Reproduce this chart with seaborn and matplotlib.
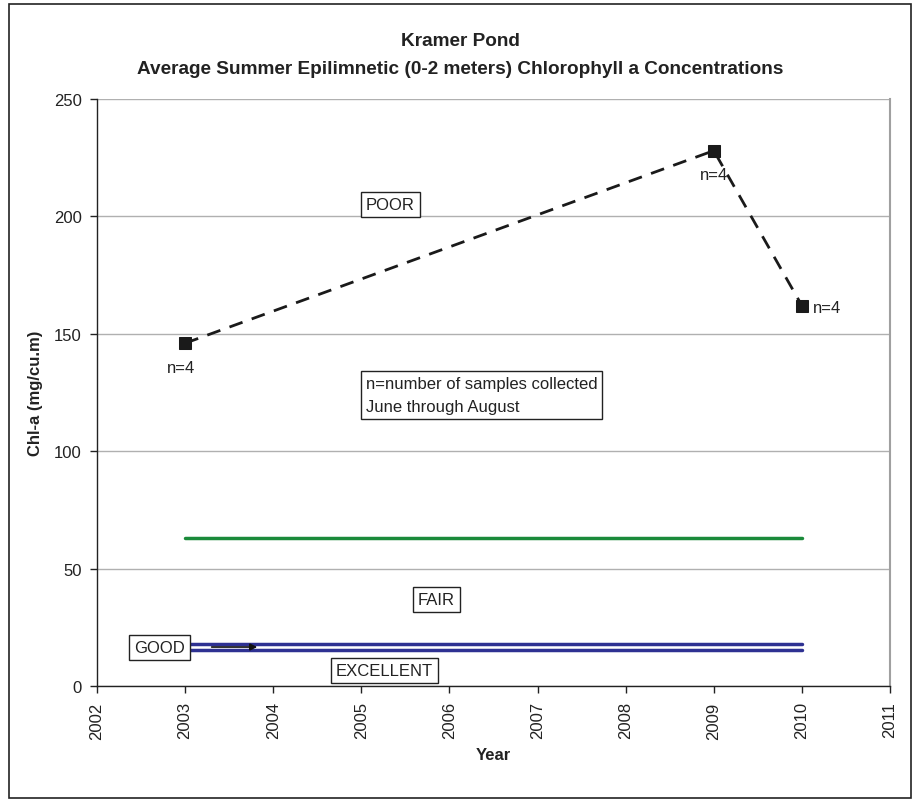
import matplotlib
matplotlib.use("Agg")
import matplotlib.pyplot as plt
import seaborn as sns
import pandas as pd
from matplotlib.patches import Rectangle

years = [2003, 2009, 2010]
chla = [146, 228, 162]
n_labels = ["n=4", "n=4", "n=4"]
fair_poor = [63, 63]
good_line = [18, 18]
excellent_line = [15.5, 15.5]
line_years = [2003, 2010]

sns.set_theme(style="white")
plt.rcParams['font.family'] = ['Liberation Sans', 'DejaVu Sans']

FS = 12
TXT = "#222222"

fig = plt.figure(figsize=(9.15, 8.03), dpi=100)
ax = fig.add_axes([97/915, 1-687/803, (890-97)/915, (687-100)/803])

df = pd.DataFrame({"Year": years, "Chl": chla})
sns.lineplot(data=df, x="Year", y="Chl", ax=ax, color="#1a1a1a", lw=2,
             linestyle=(0, (5, 3.5)), marker="s", markersize=9,
             markeredgecolor="#1a1a1a", zorder=4)

ax.plot(line_years, fair_poor, color="#1a8a3a", lw=2.5, zorder=3)
ax.plot(line_years, good_line, color="#2e3192", lw=2.5, zorder=3)
ax.plot(line_years, excellent_line, color="#2e3192", lw=2.5, zorder=3)

ax.set_xlim(2002, 2011)
ax.set_ylim(0, 250)
ax.set_xticks(range(2002, 2012))
ax.set_xticklabels([str(y) for y in range(2002, 2012)], rotation=90, fontsize=FS, color=TXT)
ax.set_yticks(range(0, 251, 50))
ax.set_yticklabels([str(v) for v in range(0, 251, 50)], fontsize=FS, color=TXT)
ax.yaxis.grid(True, color="#b0b0b0", lw=1)
ax.xaxis.grid(False)
ax.set_axisbelow(True)
for s in ["left", "bottom"]:
    ax.spines[s].set_color("#222222")
    ax.spines[s].set_linewidth(1)
ax.spines["top"].set_visible(False)
ax.spines["right"].set_color("#a0a0a0")
ax.spines["right"].set_linewidth(1.5)
ax.tick_params(axis="both", which="both", direction="out", length=5, width=1,
               color="#222222", left=True, bottom=True, pad=6)

ax.set_xlabel("Year", fontsize=FS, fontweight="bold", labelpad=6, color=TXT)
ax.set_ylabel("Chl-a (mg/cu.m)", fontsize=FS, fontweight="bold", labelpad=7.5, color=TXT)

# n labels
ax.annotate(n_labels[0], (years[0], chla[0]), xytext=(-3, -12), textcoords="offset points",
            ha="center", va="top", fontsize=FS, color=TXT)
ax.annotate(n_labels[1], (years[1], chla[1]), xytext=(0, -12), textcoords="offset points",
            ha="center", va="top", fontsize=FS, color=TXT)
ax.annotate(n_labels[2], (years[2], chla[2]), xytext=(8, -1), textcoords="offset points",
            ha="left", va="center", fontsize=FS, color=TXT)

box = dict(boxstyle="square,pad=0.3", fc="white", ec="#222222", lw=1)
ax.text(2005.05, 205, "POOR", fontsize=FS, color=TXT, va="center", ha="left", bbox=box)
ax.text(2005.64, 37, "FAIR", fontsize=FS, color=TXT, va="center", ha="left", bbox=box)
ax.text(2002.42, 16.6, "GOOD", fontsize=FS, color=TXT, va="center", ha="left", bbox=box)
ax.text(2004.71, 6.8, "EXCELLENT", fontsize=FS, color=TXT, va="center", ha="left", bbox=box)
ax.text(2005.05, 124, "n=number of samples collected\nJune through August", fontsize=FS,
        color=TXT, va="center", ha="left", linespacing=1.65,
        bbox=dict(boxstyle="square,pad=0.3", fc="white", ec="#222222", lw=1))
ax.annotate("", xy=(2003.85, 16.6), xytext=(2003.27, 16.6),
            arrowprops=dict(arrowstyle="-|>", color="#111111", lw=1.2, mutation_scale=10))

fig.text(0.503, 1-42/803, "Kramer Pond", ha="center", va="center", fontsize=13.7,
         fontweight="bold", color=TXT)
fig.text(0.503, 1-69/803, "Average Summer Epilimnetic (0-2 meters) Chlorophyll a Concentrations",
         ha="center", va="center", fontsize=13.7, fontweight="bold", color=TXT)

fig.patches.append(Rectangle((9/915, 1-799/803), (911-9)/915, (799-5)/803, transform=fig.transFigure,
                             fill=False, ec="#222222", lw=1.2))

fig.savefig("out.png", dpi=100)
